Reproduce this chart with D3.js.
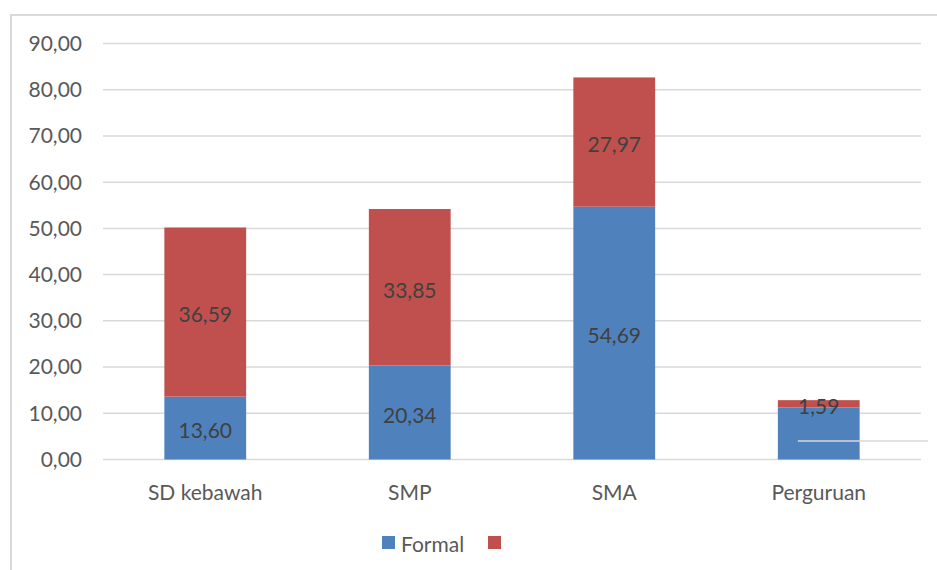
<!DOCTYPE html>
<html><head><meta charset="utf-8">
<script src="https://cdn.jsdelivr.net/npm/d3@7"></script>
<style>body{margin:0;background:#fff;}svg{display:block;font-family:Lato,"Open Sans",sans-serif;}</style>
</head><body>
<svg id="c" width="937" height="570"></svg>
<script>
const categories = ["SD kebawah","SMP","SMA","Perguruan"];
const formal = [13.60, 20.34, 54.69, 11.25];
const other = [36.59, 33.85, 27.97, 1.59];
const formalLabels = ["13,60","20,34","54,69",null];
const otherLabels = ["36,59","33,85","27,97","1,59"];
const yTicks = [0,10,20,30,40,50,60,70,80,90];
const seriesNames = ["Formal",""];
const colors = ["#4f81bd","#c0504d"];

const svg = d3.select("#c");
const pLeft = 103, pRight = 921, pTop = 43.5, pBottom = 459.5;
const fs = 21;
const x = d3.scaleBand().domain(categories).range([pLeft, pRight]).paddingInner(0.6).paddingOuter(0.3);
const y = d3.scaleLinear().domain([0, 90]).range([pBottom, pTop]);
const fmt = v => v.toFixed(2).replace(".", ",");

// frame
svg.append("rect").attr("x",11).attr("y",15).attr("width",1000).attr("height",1000)
  .attr("fill","none").attr("stroke","#d9d9d9").attr("stroke-width",2);

// gridlines
svg.append("g").selectAll("line").data(yTicks).join("line")
  .attr("x1",pLeft).attr("x2",pRight).attr("y1",d=>y(d)).attr("y2",d=>y(d))
  .attr("stroke","#d9d9d9").attr("stroke-width",1.5);

// y labels
svg.append("g").selectAll("text").data(yTicks).join("text")
  .attr("x",82).attr("y",d=>y(d)).attr("dy","0.35em").attr("text-anchor","end")
  .attr("font-size",fs).attr("fill","#595959").text(fmt);

// bars
const stack = categories.map((c,i)=>({c, f:formal[i], o:other[i], i}));
const g = svg.append("g");
g.selectAll("rect.f").data(stack).join("rect").attr("class","f")
  .attr("x",d=>x(d.c)).attr("width",x.bandwidth())
  .attr("y",d=>y(d.f)).attr("height",d=>y(0)-y(d.f)).attr("fill",colors[0]);
g.selectAll("rect.o").data(stack).join("rect").attr("class","o")
  .attr("x",d=>x(d.c)).attr("width",x.bandwidth())
  .attr("y",d=>y(d.f+d.o)).attr("height",d=>y(d.f)-y(d.f+d.o)).attr("fill",colors[1]);

// artifact line near Perguruan
svg.append("line").attr("x1",x("Perguruan")+20).attr("x2",928).attr("y1",y(4)).attr("y2",y(4))
  .attr("stroke","#d9d9d9").attr("stroke-width",1.5);

// value labels
g.selectAll("text.f").data(stack.filter(d=>formalLabels[d.i])).join("text").attr("class","f")
  .attr("x",d=>x(d.c)+x.bandwidth()/2).attr("y",d=>y(d.f/2)+3).attr("dy","0.35em")
  .attr("text-anchor","middle").attr("font-size",fs).attr("fill","#404040").text(d=>formalLabels[d.i]);
g.selectAll("text.o").data(stack).join("text").attr("class","o")
  .attr("x",d=>x(d.c)+x.bandwidth()/2).attr("y",d=>y(d.f+d.o/2)+3).attr("dy","0.35em")
  .attr("text-anchor","middle").attr("font-size",fs).attr("fill","#404040").text(d=>otherLabels[d.i]);

// category labels
svg.append("g").selectAll("text").data(categories).join("text")
  .attr("x",d=>x(d)+x.bandwidth()/2).attr("y",493).attr("dy","0.35em")
  .attr("text-anchor","middle").attr("font-size",fs).attr("fill","#595959").text(d=>d);

// legend
const lg = svg.append("g");
lg.append("rect").attr("x",382).attr("y",536).attr("width",13).attr("height",13).attr("fill",colors[0]);
lg.append("text").attr("x",401).attr("y",545).attr("dy","0.35em").attr("font-size",fs).attr("fill","#595959").text(seriesNames[0]);
lg.append("rect").attr("x",488).attr("y",536).attr("width",13).attr("height",13).attr("fill",colors[1]);
</script>
</body></html>
